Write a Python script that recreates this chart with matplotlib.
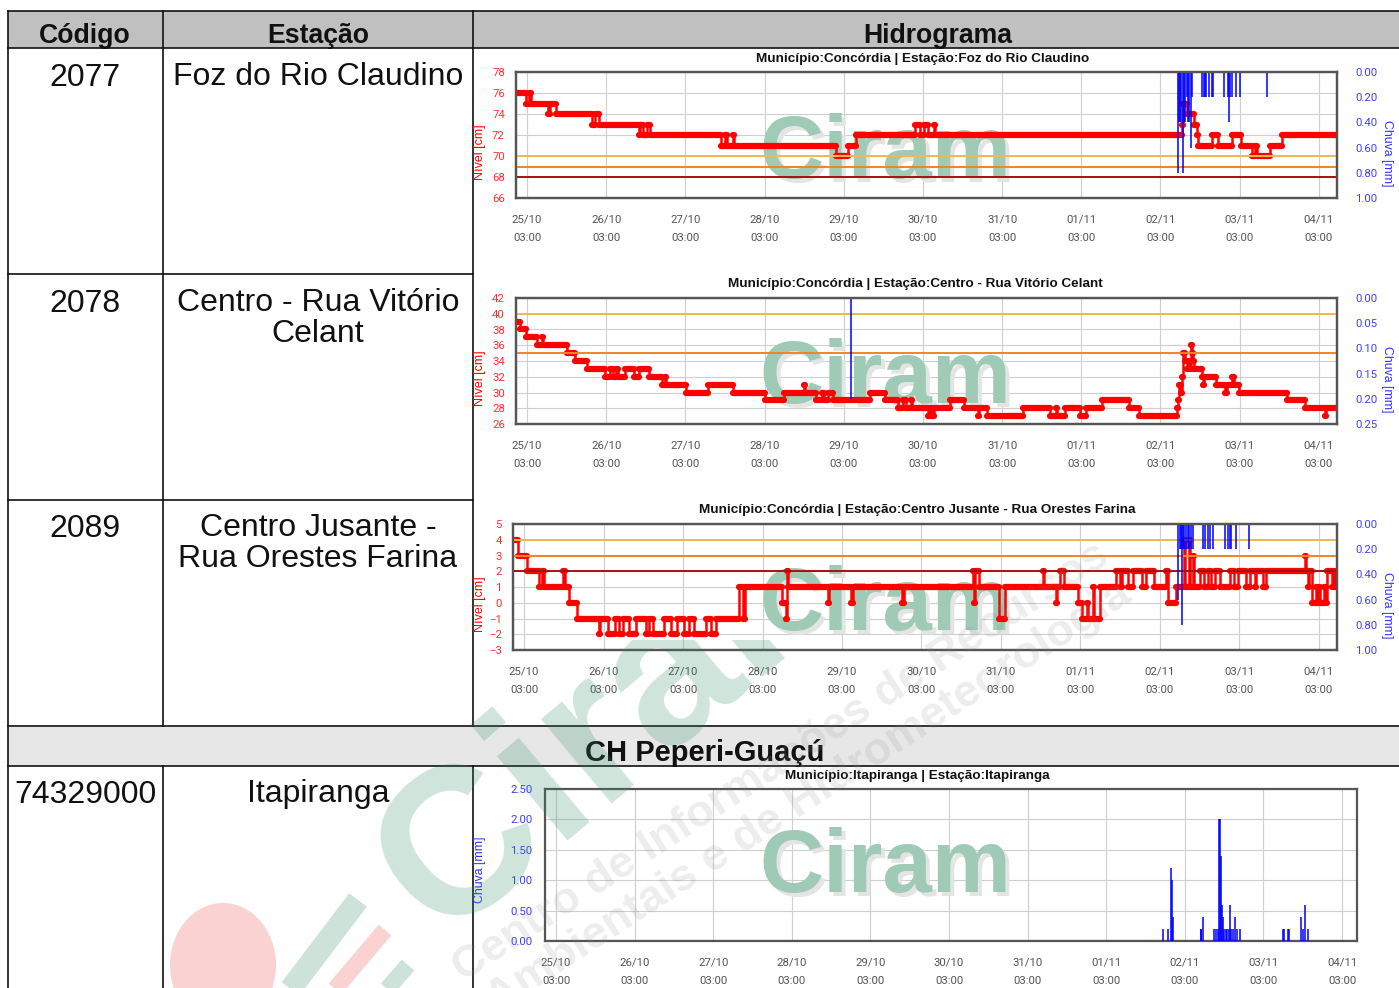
#!/usr/bin/env python3
# -*- coding: utf-8 -*-

import matplotlib
matplotlib.use("Agg")
import matplotlib.pyplot as plt
from matplotlib.patches import Ellipse, Rectangle

W, H = 1399, 988

DAY_LABELS = ["25/10", "26/10", "27/10", "28/10", "29/10", "30/10",
              "31/10", "01/11", "02/11", "03/11", "04/11"]
DAY_TICKS = list(range(11))

# Foz do Rio Claudino: level steps (days since 25/10 03:00, cm)
L1_X = [-0.14, -0.01, 0.02, 0.05, 0.27, 0.285, 0.37, 0.82, 0.86, 0.91, 1.41, 1.425, 1.47, 1.51,
        1.55, 2.45, 2.50, 2.53, 2.60, 2.615, 3.90, 4.06, 4.16, 4.90, 4.96, 5.02, 5.07, 5.14, 5.155,
        8.27, 8.29, 8.33, 8.43, 8.46, 8.48, 8.645, 8.73, 8.90, 9.02, 9.16, 9.20, 9.215, 9.38, 9.53, 10.23]
L1_Y = [76, 75, 76, 75, 74, 75, 74, 73, 74, 73, 72, 73, 72, 73,
        72, 71, 72, 71, 72, 71, 70, 71, 72, 73, 72, 73, 72, 73, 72,
        73, 75, 74, 73, 72, 71, 72, 71, 72, 71, 70, 71, 70, 71, 72, 72]
R1_X = [8.22, 8.235, 8.25, 8.265, 8.287, 8.30, 8.315, 8.33, 8.35, 8.365, 8.38, 8.40,
        8.53, 8.55, 8.565, 8.58, 8.615, 8.645, 8.67, 8.80, 8.855, 8.86, 8.875, 8.90, 8.95, 9.01, 9.34]
R1_V = [0.8, 0.4, 0.4, 0.4, 0.8, 0.4, 0.4, 0.2, 0.4, 0.4, 0.6, 0.2,
        0.2, 0.2, 0.2, 0.2, 0.2, 0.2, 0.2, 0.2, 0.2, 0.4, 0.2, 0.2, 0.2, 0.2, 0.2]

# Centro - Rua Vitorio Celant
L2_X = [-0.14, -0.09, -0.01, 0.13, 0.19, 0.2, 0.51, 0.61, 0.76, 0.98, 1.05, 1.08, 1.13, 1.15, 1.24,
        1.35, 1.42, 1.54, 1.70, 1.74, 1.755, 2.01, 2.28, 2.60, 3.0, 3.24, 3.50, 3.515, 3.65, 3.73,
        3.75, 3.80, 3.86, 4.33, 4.52, 4.68, 4.75, 4.79, 4.85, 4.865, 5.06, 5.09, 5.11, 5.14, 5.34,
        5.52, 5.70, 5.71, 5.81, 6.26, 6.61, 6.68, 6.695, 6.80, 6.99, 7.06, 7.26, 7.60, 7.73, 8.21,
        8.225, 8.24, 8.26, 8.27, 8.29, 8.31, 8.33, 8.35, 8.36, 8.38, 8.395, 8.41, 8.42, 8.52, 8.54,
        8.55, 8.70, 8.82, 8.84, 8.90, 8.93, 8.99, 9.60, 9.83, 10.08, 10.095, 10.23]
L2_Y = [39, 38, 37, 36, 37, 36, 35, 34, 33, 32, 33, 32, 33, 32, 33,
        32, 33, 32, 31, 32, 31, 30, 31, 30, 29, 30, 31, 30, 29, 30,
        29, 30, 29, 30, 29, 28, 29, 28, 29, 28, 27, 28, 27, 28, 29,
        28, 27, 28, 27, 28, 27, 28, 27, 28, 27, 28, 29, 28, 27, 28,
        29, 31, 30, 32, 35, 34, 33, 34, 33, 36, 35, 34, 33, 32, 31,
        32, 31, 30, 31, 32, 31, 30, 29, 28, 27, 28, 28]
R2_X = [4.095]
R2_V = [0.20]

# Centro Jusante - Rua Orestes Farina
L3_X = [-0.14, -0.08, 0.03, 0.19, 0.22, 0.25, 0.49, 0.52, 0.57, 0.66, 0.94, 0.955, 1.054, 1.138, 1.20,
        1.25, 1.32, 1.41, 1.535, 1.577, 1.62, 1.766, 1.85, 1.92, 2.017, 2.08, 2.14, 2.289, 2.35, 2.414,
        2.71, 2.76, 2.785, 3.25, 3.29, 3.305, 3.32, 3.82, 3.835, 4.12, 4.135, 4.76, 4.775, 5.65, 5.667,
        5.68, 5.72, 5.98, 6.05, 6.53, 6.545, 6.69, 6.705, 6.74, 6.80, 6.97, 7.015, 7.08, 7.10, 7.155,
        7.17, 7.245, 7.455, 7.50, 7.52, 7.60, 7.665, 7.77, 7.83, 7.925, 8.084, 8.105, 8.21, 8.30, 8.315,
        8.37, 8.385, 8.42, 8.435, 8.50, 8.55, 8.608, 8.65, 8.69, 8.755, 8.88, 8.94, 8.985, 9.09, 9.13,
        9.20, 9.215, 9.30, 9.32, 9.335, 9.825, 9.84, 9.86, 9.88, 9.91, 9.92, 9.96, 9.98, 10.0, 10.01,
        10.07, 10.09, 10.11, 10.17, 10.19, 10.21, 10.23]
L3_Y = [4, 3, 2, 1, 2, 1, 2, 1, 0, -1, -2, -1, -2, -1, -2,
        -1, -2, -1, -2, -1, -2, -1, -2, -1, -2, -1, -2, -1, -2, -1,
        1, -1, 1, 0, -1, 2, 1, 0, 1, 0, 1, 0, 1, 2, 0,
        2, 1, -1, 1, 2, 1, 0, 1, 2, 1, 0, -1, 0, -1, 1,
        -1, 1, 2, 1, 2, 1, 2, 1, 2, 1, 2, 0, 1, 4, 1,
        4, 1, 3, 1, 2, 1, 2, 1, 2, 1, 2, 1, 2, 1, 2,
        1, 2, 1, 1, 2, 3, 2, 1, 2, 1, 0, 1, 0, 1, 0,
        1, 0, 2, 1, 2, 1, 1]
R3_X = [8.23, 8.25, 8.265, 8.28, 8.295, 8.31, 8.33, 8.35, 8.37, 8.39, 8.42,
        8.545, 8.565, 8.61, 8.63, 8.67, 8.825, 8.86, 8.88, 8.90, 8.955, 9.12]
R3_V = [0.6, 0.2, 0.2, 0.8, 0.2, 0.2, 0.2, 0.2, 0.2, 0.2, 0.2,
        0.2, 0.2, 0.2, 0.2, 0.2, 0.2, 0.2, 0.2, 0.2, 0.2, 0.2]

# Itapiranga (rain only)
R4_X = [7.725, 7.79, 7.826, 7.84, 7.85, 8.2, 8.21, 8.225, 8.37, 8.40, 8.42, 8.436, 8.45, 8.46, 8.475,
        8.49, 8.50, 8.52, 8.54, 8.56, 8.576, 8.59, 8.61, 8.64, 8.66, 8.70, 9.246, 9.267, 9.31, 9.326,
        9.48, 9.50, 9.534, 9.568]
R4_V = [0.2, 0.2, 1.2, 1.0, 0.4, 0.2, 0.2, 0.4, 0.2, 0.2, 0.2, 2.0, 2.0, 1.4, 0.6,
        0.4, 0.2, 0.2, 0.2, 0.2, 0.6, 0.2, 0.2, 0.4, 0.2, 0.2, 0.2, 0.2, 0.2, 0.2,
        0.4, 0.2, 0.6, 0.2]

THRESH_COLORS = ["#f2b84f", "#f08526", "#a81010"]
RED = "#ff0000"
BLUE = "#0000ff"
GREY = "#555555"
TICK = "Roboto"


def px_axes(fig, left, top, right, bottom, **kw):
    return fig.add_axes([left / W, 1 - bottom / H, (right - left) / W, (bottom - top) / H], **kw)


def ciram_mark(ax, cx, base):
    # page coords -> the little logo text that sits behind every hydrogram
    tr = bg.transData
    ax.text(cx + 4, base + 4, "Ciram", transform=tr, fontsize=64, fontweight="bold", ha="center",
            va="baseline", family="Liberation Sans", color="#e4e4e4", zorder=1.2, clip_on=False)
    ax.text(cx, base, "Ciram", transform=tr, fontsize=64, fontweight="bold", ha="center",
            va="baseline", family="Liberation Sans", color="#9fcab6", zorder=1.3, clip_on=False)


def style_frame(ax):
    for s in ax.spines.values():
        s.set_color(GREY)
        s.set_linewidth(1.6)


def hydro(fig, box, xlim, title, title_xy, levels, level_ticks, thresholds, rain, rain_ticks, mark):
    left, top, right, bottom = box
    ax = px_axes(fig, left, top, right, bottom)
    ax.patch.set_alpha(0)
    ax.set_xlim(*xlim)
    ax.set_ylim(level_ticks[0], level_ticks[-1])
    ax.set_xticks(DAY_TICKS)
    ax.set_xticklabels([d + "\n03:00" for d in DAY_LABELS], fontsize=8.2, family=TICK, color=GREY, linespacing=2.05)
    ax.set_yticks(level_ticks)
    ax.tick_params(axis="x", length=0, pad=12)
    ax.tick_params(axis="y", length=0, pad=8, labelsize=8.2, labelcolor="#ff3030")
    for t in ax.get_yticklabels():
        t.set_family(TICK)
    ax.grid(True, color="#cfcfcf", lw=0.8, zorder=0)
    ax.set_axisbelow(True)
    style_frame(ax)
    ciram_mark(ax, *mark)

    xs, ys = levels
    ax.plot(xs, ys, drawstyle="steps-post", color=RED, lw=1.8, zorder=3)
    ax.hlines(ys[:-1], xs[:-1], xs[1:], color=RED, lw=4.5, capstyle="round", zorder=3)
    for val, col in zip(thresholds, THRESH_COLORS):
        ax.axhline(val, color=col, lw=1.4, zorder=4)

    ax2 = ax.twinx()
    ax2.set_ylim(rain_ticks[-1], rain_ticks[0])
    ax2.set_yticks(rain_ticks)
    ax2.set_yticklabels(["%.2f" % v for v in rain_ticks], fontsize=8.2, family=TICK, color="#4040ff")
    ax2.tick_params(axis="y", length=0, pad=13)
    ax2.axhline(0, color="#2020d0", lw=1.2, zorder=2)
    ax2.vlines(rain[0], 0, rain[1], color=BLUE, lw=1.1, zorder=2)
    style_frame(ax2)

    bg.text(title_xy[0], title_xy[1], title, fontsize=9.7, fontweight="bold", ha="center", va="center",
            family="Liberation Sans", color="#111111")
    bg.text(480, (top + bottom) / 2 + 17, "Nível [cm]", rotation=90, fontsize=9, color=RED, ha="center",
            va="center", family="Liberation Sans")
    bg.text(1387, (top + bottom) / 2 + 18, "Chuva [mm]", rotation=270, fontsize=8.8, color="#3030ff",
            ha="center", va="center", family="Liberation Sans")


fig = plt.figure(figsize=(W / 100, H / 100), dpi=100, facecolor="white")

# page layer in pixel coords: table grid and cell text
bg = fig.add_axes([0, 0, 1, 1])
bg.set_xlim(0, W)
bg.set_ylim(H, 0)
bg.axis("off")
bg.add_patch(Rectangle((8, 11), W - 8, 37, fc="#c0c0c0", ec="none"))
bg.add_patch(Rectangle((8, 727), W - 8, 39, fc="#e8e7e8", ec="none"))
for y, x1 in [(11, W), (48, W), (274, 473), (500, 473), (726, W), (766, W)]:
    bg.plot([8, x1], [y, y], color="#111111", lw=1.2)
for x, y0, y1 in [(8, 11, 988), (163, 11, 726), (163, 766, 988), (473, 11, 726), (473, 766, 988)]:
    bg.plot([x, x], [y0, y1], color="#111111", lw=1.2)

for x, label in [(85, "Código"), (318, "Estação"), (938, "Hidrograma")]:
    bg.text(x, 36, label, fontsize=19.2, fontweight="bold", ha="center", va="center",
            family="Liberation Sans", color="#111111")
bg.text(705, 753, "CH Peperi-Guaçú", fontsize=21, fontweight="bold", ha="center", va="center",
        family="Liberation Sans", color="#111111")

CODES = ["2077", "2078", "2089", "74329000"]
STATIONS = ["Foz do Rio Claudino", "Centro - Rua Vitório\nCelant", "Centro Jusante -\nRua Orestes Farina", "Itapiranga"]
ROW_Y = [75, 301, 526, 792]
for code, st, y in zip(CODES, STATIONS, ROW_Y):
    bg.text(85, y + 3, code, fontsize=23, ha="center", va="center", family="Liberation Sans", color="#111111")
    bg.text(318, y - 13, st, fontsize=23, ha="center", va="top", family="Liberation Sans", color="#111111",
            linespacing=1.06)

hydro(fig, (516, 72, 1337, 198), (-0.139, 10.23),
      "Município:Concórdia | Estação:Foz do Rio Claudino", (923, 59),
      (L1_X, L1_Y), list(range(66, 80, 2)), [70, 69, 68],
      (R1_X, R1_V), [0, 0.2, 0.4, 0.6, 0.8, 1.0], (885, 178))
hydro(fig, (516, 298, 1337, 424), (-0.139, 10.23),
      "Município:Concórdia | Estação:Centro - Rua Vitório Celant", (915, 284),
      (L2_X, L2_Y), list(range(26, 44, 2)), [40, 35],
      (R2_X, R2_V), [0, 0.05, 0.10, 0.15, 0.20, 0.25], (885, 403))
hydro(fig, (513, 524, 1337, 650), (-0.14, 10.23),
      "Município:Concórdia | Estação:Centro Jusante - Rua Orestes Farina", (917, 510),
      (L3_X, L3_Y), list(range(-3, 6)), [4, 3, 2],
      (R3_X, R3_V), [0, 0.2, 0.4, 0.6, 0.8, 1.0], (885, 630))

# last row has rain only, on the left axis
ax4 = px_axes(fig, 545, 789, 1357, 941)
ax4.patch.set_alpha(0)
ax4.set_xlim(-0.14, 10.19)
ax4.set_ylim(0, 2.5)
ax4.set_xticks(DAY_TICKS)
ax4.set_xticklabels([d + "\n03:00" for d in DAY_LABELS], fontsize=8.2, family=TICK, color=GREY, linespacing=2.05)
ax4.set_yticks([0, 0.5, 1, 1.5, 2, 2.5])
ax4.set_yticklabels(["0.00", "0.50", "1.00", "1.50", "2.00", "2.50"], fontsize=8.2, family=TICK, color="#4040ff")
ax4.tick_params(axis="x", length=0, pad=12)
ax4.tick_params(axis="y", length=0, pad=9)
ax4.grid(True, color="#cfcfcf", lw=0.8)
ax4.set_axisbelow(True)
style_frame(ax4)
ciram_mark(ax4, 885, 892)
ax4.axhline(0, color="#2020d0", lw=1.5, zorder=2)
ax4.vlines(R4_X, 0, R4_V, color=BLUE, lw=1.1, zorder=3)
bg.text(917, 776, "Município:Itapiranga | Estação:Itapiranga", fontsize=9.7, fontweight="bold", ha="center",
        va="center", family="Liberation Sans", color="#111111")
bg.text(480, 870, "Chuva [mm]", rotation=90, fontsize=8.8, color="#3030ff", ha="center", va="center",
        family="Liberation Sans")

# big pale page watermark over everything, only shows below the third chart plot area
wm = fig.add_axes([0, 0, 1, 1], zorder=10)
wm.set_xlim(0, W)
wm.set_ylim(H, 0)
wm.axis("off")
clip_big = Rectangle((0, 640), W, H - 640, transform=wm.transData)
clip_txt = Rectangle((0, 510), W, H - 510, transform=wm.transData)

wm.add_patch(Ellipse((223, 965), 106, 124, fc="#e8342f", ec="none", alpha=0.22))
wm.plot([286, 358], [995, 900], color="#2e8b62", lw=16, alpha=0.24, solid_capstyle="butt")
wm.plot([330, 385], [995, 930], color="#e8342f", lw=12, alpha=0.22, solid_capstyle="butt")
wm.plot([382, 408], [995, 965], color="#2e8b62", lw=12, alpha=0.24, solid_capstyle="butt")

big = wm.text(440, 940, "Ciram", fontsize=150, fontweight="bold", family="Liberation Sans", color="#2e8b62",
              alpha=0.23, rotation=40, rotation_mode="anchor", ha="left", va="baseline", clip_on=True)
big.set_clip_path(clip_big)
for x, y, txt in [(463, 982, "Centro de Informações de Recursos"),
                  (497, 1013, "Ambientais e de Hidrometeorologia")]:
    t = wm.text(x, y, txt, fontsize=32.5, fontweight="bold", family="Liberation Sans", clip_on=True,
                color="#888888", alpha=0.15, rotation=33, rotation_mode="anchor", ha="left", va="baseline")
    t.set_clip_path(clip_txt)

fig.savefig("out.png", dpi=100)
plt.close(fig)
